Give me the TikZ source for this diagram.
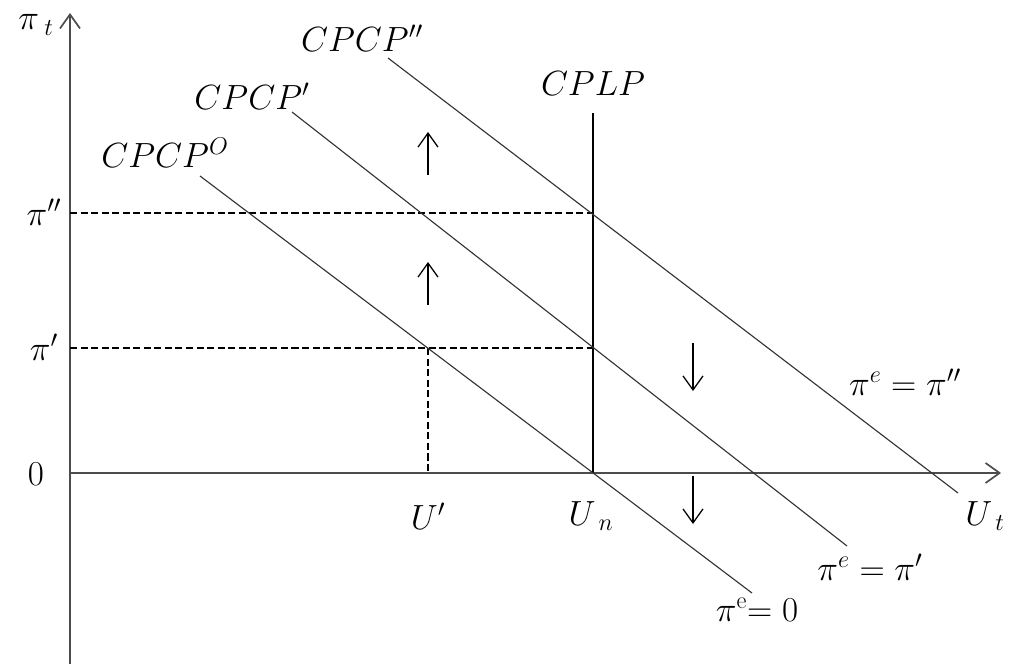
\documentclass[tikz,border=0pt]{standalone}
\usepackage{amsmath}
\usetikzlibrary{arrows.meta,positioning}

\begin{document}
\begin{tikzpicture}[x=0.025cm, y=-0.025cm,
    every node/.style={font=\fontsize{24}{28}\selectfont, inner sep=1pt},
    ax/.style={line width=1.2pt, draw=black!70, -{Straight Barb[length=3.5mm, width=5mm]}},
    ln/.style={line width=0.8pt, draw=black!80},
    dsh/.style={line width=0.8pt, dash pattern=on 5pt off 2.5pt},
    mv/.style={line width=0.9pt, -{Straight Barb[length=3.5mm, width=5mm]}},
  ]
  \useasboundingbox (0,0) rectangle (1014,664);
  % axes
  \coordinate (ybot) at (70,664);
  \coordinate (ytop) at (70,13);
  \coordinate (o) at (70,473);
  \coordinate (xend) at (1001,473);
  \draw[ax] (ybot) -- (ytop);
  \draw[ax] (o) -- (xend);
  \node (pit) at (36,25) {$\pi_{\;t}$};
  \node (ut) at (985,516) {$U_{\;t}$};
  \node (zero) at (36,474) {$0$};
  % levels
  \coordinate (a2) at (70,213);
  \coordinate (a1) at (70,348);
  \coordinate (p2) at (593,213);
  \coordinate (p1) at (593,348);
  \coordinate (q1) at (428,348);
  \coordinate (u1) at (428,473);
  \node (pi2) at (44,212) {$\pi''$};
  \node (pi1) at (44,347) {$\pi'$};
  \draw[dsh] (a2) -- (p2);
  \draw[dsh] (a1) -- (p1);
  \draw[dsh] (q1) -- (u1);
  \node (ul) at (428,516) {$U'$};
  % long run
  \coordinate (cplpt) at (593,113);
  \coordinate (un) at (593,473);
  \draw[line width=0.9pt] (cplpt) -- (un);
  \node (cplp) at (593,84) {$CPLP$};
  \node (unl) at (591,516) {$U_{\;n}$};
  % short run curves
  \coordinate (c0a) at (200,176);
  \coordinate (c0b) at (752,593);
  \coordinate (c1a) at (292,112);
  \coordinate (c1b) at (847,546);
  \coordinate (c2a) at (388,58);
  \coordinate (c2b) at (958,493);
  \draw[ln] (c0a) -- (c0b);
  \draw[ln] (c1a) -- (c1b);
  \draw[ln] (c2a) -- (c2b);
  \node (cp0) at (165,153) {$CPCP^{O}$};
  \node (cp1) at (252,96) {$CPCP'$};
  \node (cp2) at (362,38) {$CPCP''$};
  \node (e2) at (905,382) {$\pi^{e}=\pi''$};
  \node (e1) at (870,567) {$\pi^{e}=\pi'$};
  \node (e0) at (757,610) {$\pi^{\mathrm{e}}{=}\;0$};
  % movements
  \coordinate (m1a) at (428,175);
  \coordinate (m1b) at (428,132);
  \coordinate (m2a) at (428,305);
  \coordinate (m2b) at (428,262);
  \coordinate (m3a) at (693,343);
  \coordinate (m3b) at (693,391);
  \coordinate (m4a) at (693,476);
  \coordinate (m4b) at (693,524);
  \draw[mv] (m1a) -- (m1b);
  \draw[mv] (m2a) -- (m2b);
  \draw[mv] (m3a) -- (m3b);
  \draw[mv] (m4a) -- (m4b);
\end{tikzpicture}
\end{document}
